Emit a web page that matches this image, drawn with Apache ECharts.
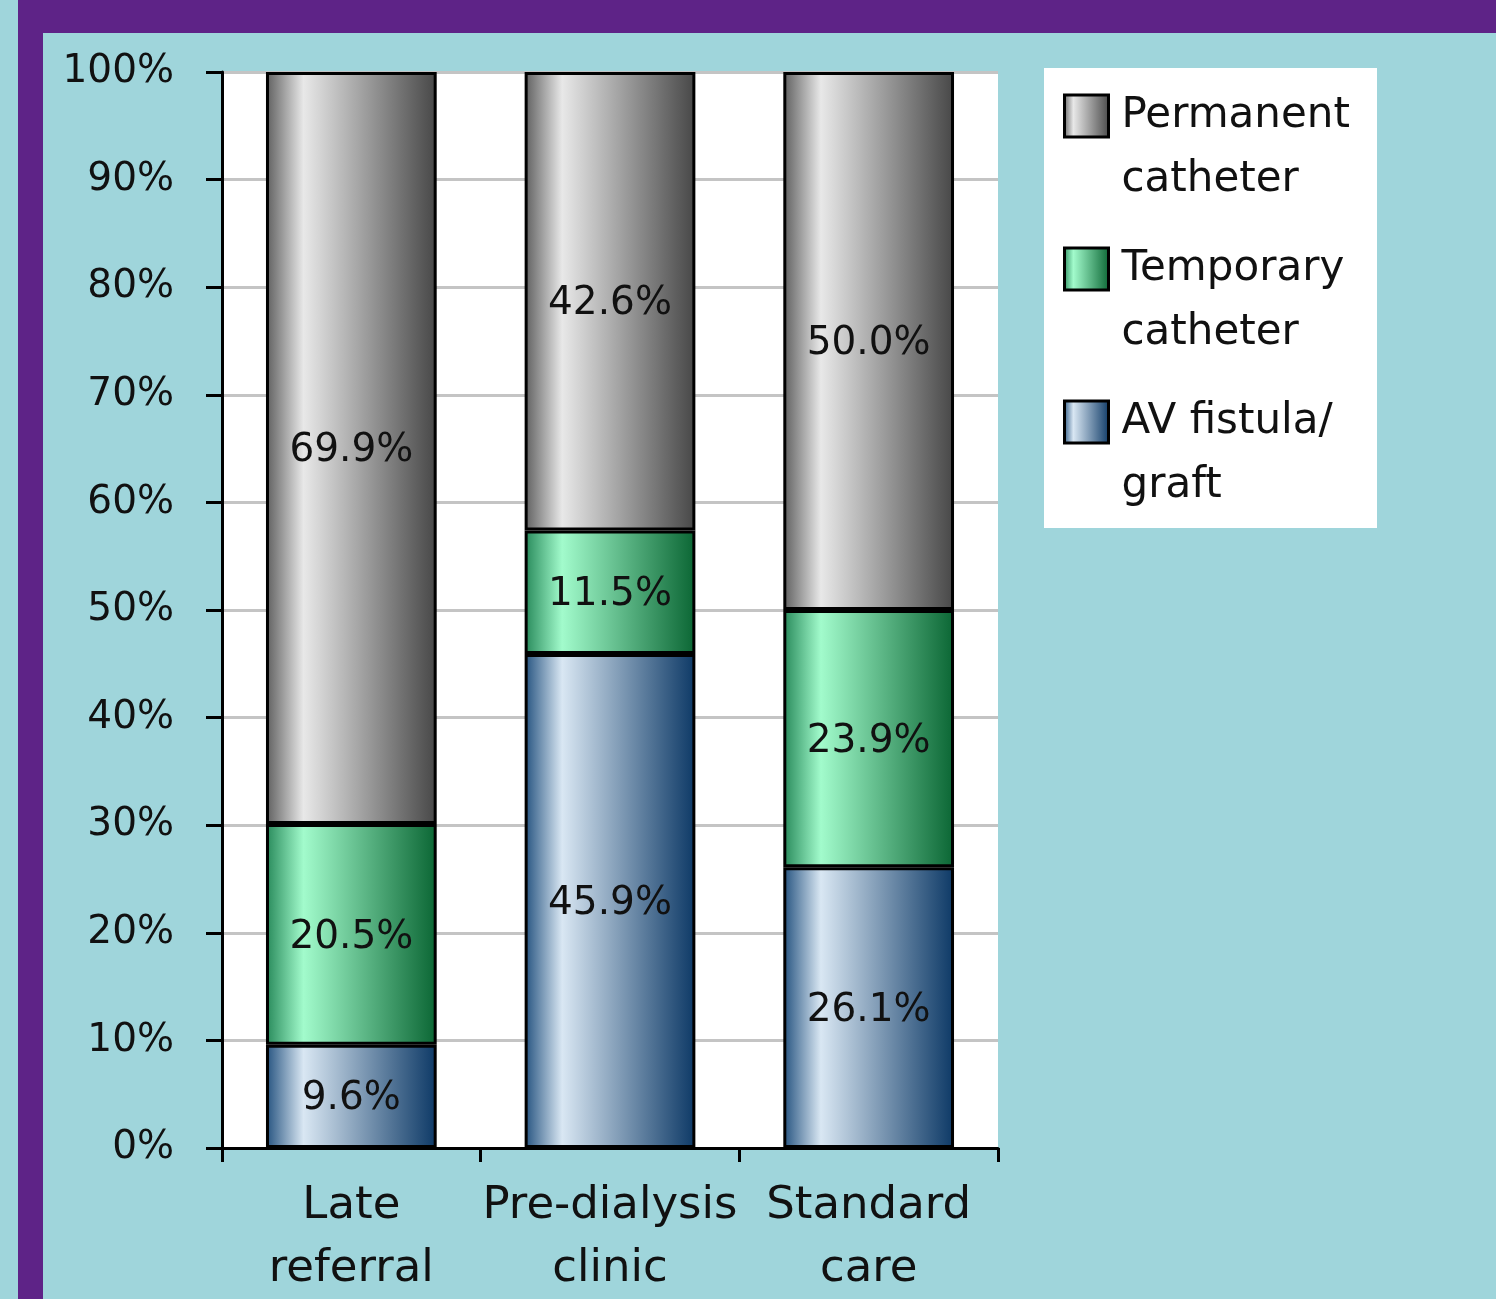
<!DOCTYPE html>
<html>
<head>
<meta charset="utf-8">
<script src="https://cdn.jsdelivr.net/npm/echarts@6/dist/echarts.min.js"></script>
<style>
  html, body { margin: 0; padding: 0; background: #9fd5db; }
  #container { width: 1496px; height: 1299px; }
</style>
</head>
<body>
<div id="container"></div>
<script>
var dom = document.getElementById("container");
var myChart = echarts.init(dom);

// data
var categories = ["Late\nreferral", "Pre-dialysis\nclinic", "Standard\ncare"];
var avFistula = [9.6, 45.9, 26.1];
var tempCatheter = [20.5, 11.5, 23.9];
var permCatheter = [69.9, 42.6, 50.0];
var seriesNames = ["Permanent\ncatheter", "Temporary\ncatheter", "AV fistula/\ngraft"];

var FONT = "DejaVu Sans";

function grad(edge, light, right) {
  return new echarts.graphic.LinearGradient(0, 0, 1, 0, [
    { offset: 0, color: edge },
    { offset: 0.22, color: light },
    { offset: 1, color: right }
  ]);
}

var barStyle = function (c) {
  return { color: c, borderColor: "#000", borderWidth: 3 };
};

var label = {
  show: true,
  position: "inside",
  color: "#111",
  fontFamily: FONT,
  fontSize: 39,
  offset: [0, 3],
  formatter: function (p) { return p.value.toFixed(1) + "%"; }
};

var option = {
  backgroundColor: "#9fd5db",
  animation: false,
  textStyle: { fontFamily: FONT },
  graphic: [
    { type: "rect", z: -10, shape: { x: 18, y: 0, width: 1478, height: 1299 }, style: { fill: "#5e2387" } },
    { type: "rect", z: -9, shape: { x: 43, y: 33, width: 1453, height: 1266 }, style: { fill: "#9fd5db" } },
    { type: "rect", z: -8, shape: { x: 222, y: 72, width: 776, height: 1076 }, style: { fill: "#ffffff" } },
    { type: "rect", z: -8, shape: { x: 1044, y: 68, width: 333, height: 460 }, style: { fill: "#ffffff" } }
  ],
  grid: { left: 222, right: 498, top: 72, bottom: 151, outerBoundsMode: "none" },
  legend: {
    data: [seriesNames[0], seriesNames[1], seriesNames[2]],
    orient: "vertical",
    left: 1063,
    top: 20,
    padding: 0,
    icon: "rect",
    itemWidth: 44,
    itemHeight: 42,
    itemGap: -39,
    itemStyle: { borderColor: "#000", borderWidth: 3 },
    formatter: function (name) { return "\n" + name; },
    textStyle: {
      fontFamily: FONT,
      fontSize: 42,
      color: "#111",
      lineHeight: 64,
      padding: [0, 0, 0, 8]
    }
  },
  xAxis: {
    type: "category",
    data: categories,
    axisLine: { lineStyle: { color: "#000", width: 3 } },
    axisTick: { show: true, interval: 0, length: 14, lineStyle: { color: "#000", width: 3 } },
    axisLabel: { interval: 0, hideOverlap: false, color: "#111", fontFamily: FONT, fontSize: 45, lineHeight: 63, margin: 27 }
  },
  yAxis: {
    type: "value",
    min: 0,
    max: 100,
    interval: 10,
    axisLine: { show: true, lineStyle: { color: "#000", width: 3 } },
    axisTick: { show: true, length: 16, lineStyle: { color: "#000", width: 3 } },
    axisLabel: { color: "#111", fontFamily: FONT, fontSize: 39, margin: 48, formatter: "{value}%" },
    splitLine: { lineStyle: { color: "#c4c4c4", width: 3 } }
  },
  series: [
    {
      name: seriesNames[2], type: "bar", stack: "all", barWidth: "66%",
      data: avFistula, label: label,
      itemStyle: barStyle(grad("#24527f", "#d9e7f3", "#0d3966"))
    },
    {
      name: seriesNames[1], type: "bar", stack: "all", barWidth: "66%",
      data: tempCatheter, label: label,
      itemStyle: barStyle(grad("#27895a", "#a2fbcc", "#0b6634"))
    },
    {
      name: seriesNames[0], type: "bar", stack: "all", barWidth: "66%",
      data: permCatheter, label: label,
      itemStyle: barStyle(grad("#5e5e5e", "#e8e8e8", "#474747"))
    }
  ]
};

myChart.setOption(option, true);
</script>
</body>
</html>
